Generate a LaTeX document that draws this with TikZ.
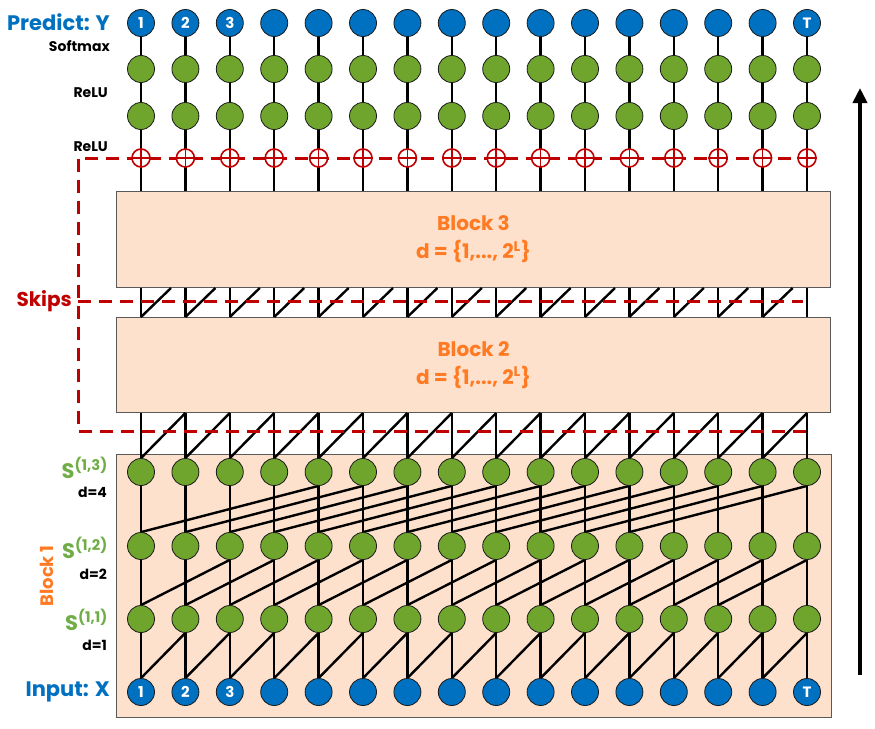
\documentclass[tikz,border=0pt]{standalone}
\usepackage{fontspec}
\setmainfont{Poppins}
\usetikzlibrary{positioning,calc,arrows.meta}
\definecolor{NodeBlue}{HTML}{0070C0}
\definecolor{NodeGreen}{HTML}{6FA52D}
\definecolor{LabelGreen}{HTML}{70AD47}
\definecolor{BlockFill}{HTML}{FDE1CD}
\definecolor{BlockLine}{HTML}{595959}
\definecolor{BlockText}{HTML}{FF7A22}
\definecolor{SkipRed}{HTML}{C00000}
\definecolor{Dark}{HTML}{1A1A1A}

\pgfdeclarelayer{boxes}
\pgfdeclarelayer{wires}
\pgfsetlayers{boxes,wires,main}

\tikzset{
	unit/.style={circle, draw=Dark, line width=0.8pt, minimum size=27pt, inner sep=0pt},
	inunit/.style={unit, fill=NodeBlue, text=white, font=\bfseries\fontsize{15}{15}\selectfont},
	hidunit/.style={unit, fill=NodeGreen},
	plusunit/.style={circle, draw=SkipRed, fill=white, line width=1.6pt, minimum size=18pt, inner sep=0pt},
	wire/.style={line width=2.4pt, black},
	skipline/.style={draw=SkipRed, line width=3pt, dash pattern=on 13pt off 8pt},
	blockbox/.style={draw=BlockLine, fill=BlockFill, line width=1pt, anchor=north west, inner sep=0pt,
		align=center, text=BlockText, font=\bfseries\fontsize{20}{28}\selectfont},
	sidelbl/.style={anchor=east, inner sep=0pt, font=\bfseries\fontsize{14}{14}\selectfont},
}

\begin{document}
\begin{tikzpicture}[x=1pt,y=-1pt]
	\useasboundingbox (0,0) rectangle (875,728);

	\begin{pgfonlayer}{boxes}
		\node[blockbox, minimum width=714pt, minimum height=96pt] (blk3) at (116,191) {Block 3\\d = \{1,..., 2\textsuperscript{L}\}};
		\node[blockbox, minimum width=714pt, minimum height=95pt] (blk2) at (116,317) {Block 2\\d = \{1,..., 2\textsuperscript{L}\}};
		\node[blockbox, minimum width=715pt, minimum height=263pt] (blk1) at (116,454) {};
	\end{pgfonlayer}

	\foreach \i/\t in {1/1,2/2,3/3,4/,5/,6/,7/,8/,9/,10/,11/,12/,13/,14/,15/,16/T} {
		\pgfmathsetmacro{\cx}{141+(\i-1)*44.4}
		\node[inunit] (x\i) at (\cx,692) {\t};
		\node[hidunit] (a\i) at (\cx,619) {};
		\node[hidunit] (b\i) at (\cx,546) {};
		\node[hidunit] (c\i) at (\cx,472) {};
		\node[plusunit] (p\i) at (\cx,158) {};
		\node[hidunit] (r\i) at (\cx,116) {};
		\node[hidunit] (s\i) at (\cx,69) {};
		\node[inunit] (y\i) at (\cx,23) {\t};
		\draw[SkipRed, line width=1.6pt] (p\i.north) -- (p\i.south) (p\i.west) -- (p\i.east);
		\coordinate (b2s\i) at (c\i |- blk2.south);
		\coordinate (b2n\i) at (c\i |- blk2.north);
		\coordinate (b3s\i) at (c\i |- blk3.south);
		\coordinate (b3n\i) at (c\i |- blk3.north);
		\coordinate (d3\i) at ($(b3s\i)+(30,0)$);
	}

	\begin{pgfonlayer}{wires}
		\foreach \i in {1,...,16} {
			\draw[wire] (x\i) -- (c\i);
			\draw[wire] (c\i) -- (b2s\i);
			\draw[wire] (b2n\i) -- (b3s\i);
			\draw[wire] (b3n\i) -- (y\i);
		}
		\foreach \i [evaluate=\i as \j using int(\i+1)] in {1,...,15} {
			\draw[wire] (x\i.north) -- (a\j.south);
			\draw[wire] (c\i.north) -- (b2s\j);
			\draw[wire] (b2n\i) -- (d3\i);
		}
		\foreach \i [evaluate=\i as \j using int(\i+2)] in {1,...,14}
			\draw[wire] (a\i.north) -- (b\j.south);
		\foreach \i [evaluate=\i as \j using int(\i+4)] in {1,...,12}
			\draw[wire] (b\i.north) -- (c\j.south);

		\coordinate (sk1) at (806,431);
		\coordinate (sk2) at (78,431);
		\coordinate (sk3) at (78,158);
		\coordinate (sk4) at (815,158);
		\coordinate (sk5) at (78,301);
		\coordinate (sk6) at (803,301);
		\draw[skipline] (sk1) -- (sk2) -- (sk3) -- (sk4);
		\draw[skipline] (sk5) -- (sk6);
	\end{pgfonlayer}

	\node[sidelbl, text=NodeBlue, font=\bfseries\fontsize{21}{21}\selectfont] (predict) at (110,22) {Predict: Y};
	\node[sidelbl] (softmax) at (110,46) {Softmax};
	\node[sidelbl] (relu2) at (108,93) {ReLU};
	\node[sidelbl] (relu1) at (108,147) {ReLU};
	\node[sidelbl, text=SkipRed, font=\bfseries\fontsize{20}{20}\selectfont] (skips) at (72,301) {Skips};
	\node[sidelbl, text=LabelGreen, font=\bfseries\fontsize{21}{21}\selectfont] (s13) at (108,468) {S\textsuperscript{(1,3)}};
	\node[sidelbl] (d4) at (107,492) {d=4};
	\node[sidelbl, text=LabelGreen, font=\bfseries\fontsize{21}{21}\selectfont] (s12) at (108,548) {S\textsuperscript{(1,2)}};
	\node[sidelbl] (d2) at (107,574) {d=2};
	\node[sidelbl, text=LabelGreen, font=\bfseries\fontsize{21}{21}\selectfont] (s11) at (108,620) {S\textsuperscript{(1,1)}};
	\node[sidelbl] (d1) at (107,645) {d=1};
	\node[text=BlockText, font=\bfseries\fontsize{18}{18}\selectfont, rotate=90, inner sep=0pt] (blk1lbl) at (47,576) {Block 1};
	\node[sidelbl, text=NodeBlue, font=\bfseries\fontsize{21}{21}\selectfont] (input) at (110,692) {Input: X};

	\coordinate (ar0) at (860,675);
	\coordinate (ar1) at (860,88);
	\draw[-{Triangle[length=15pt,width=14pt]}, line width=4.5pt] (ar0) -- (ar1);
\end{tikzpicture}
\end{document}
